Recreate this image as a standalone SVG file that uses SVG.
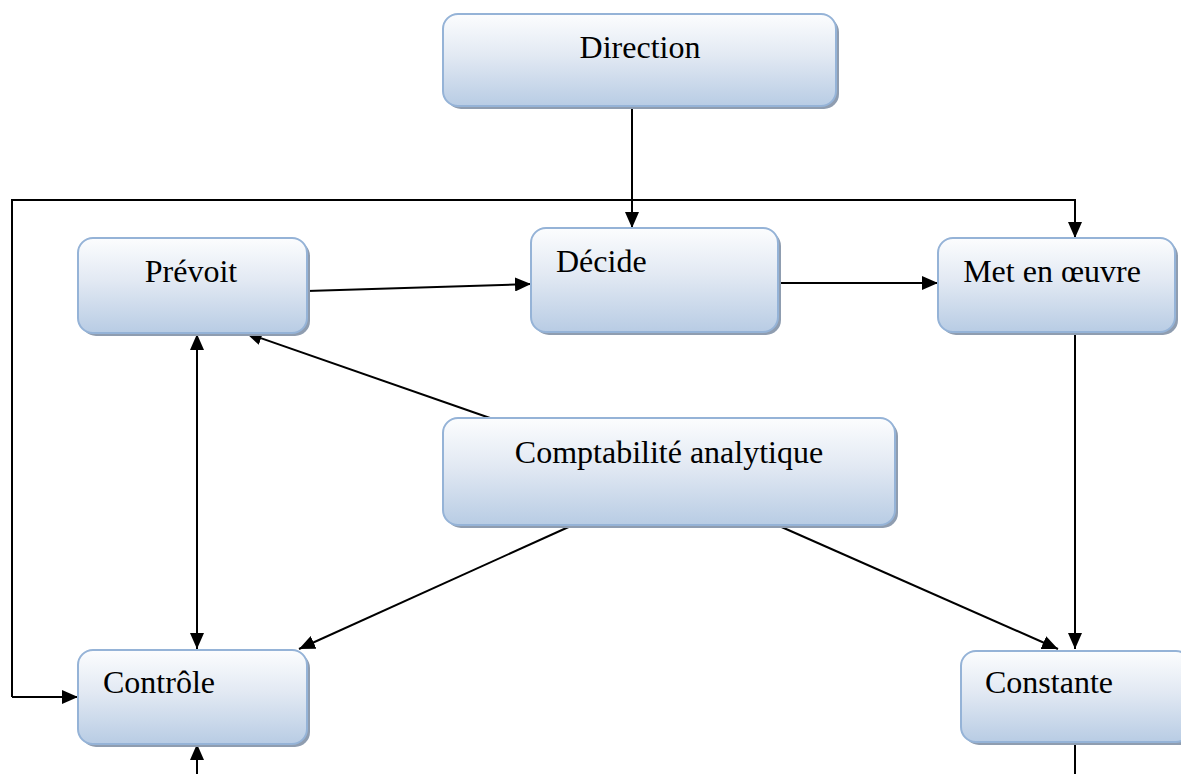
<svg xmlns="http://www.w3.org/2000/svg" width="1181" height="774" viewBox="0 0 1181 774">
  <defs>
    <linearGradient id="boxFill" x1="0" y1="0" x2="0" y2="1">
      <stop offset="0" stop-color="#fcfdfe"/>
      <stop offset="0.45" stop-color="#e2e9f3"/>
      <stop offset="1" stop-color="#b8cce4"/>
    </linearGradient>
    <marker id="arrow" viewBox="0 0 16 14" refX="16" refY="7" markerWidth="16" markerHeight="14" markerUnits="userSpaceOnUse" orient="auto">
      <path d="M0,0 L16,7 L0,14 Z" fill="#000"/>
    </marker>
    <marker id="arrowStart" viewBox="0 0 16 14" refX="0" refY="7" markerWidth="16" markerHeight="14" markerUnits="userSpaceOnUse" orient="auto">
      <path d="M16,0 L0,7 L16,14 Z" fill="#000"/>
    </marker>
  </defs>
  <style>
    .shadow { fill: #8f9db0; }
    .box { fill: url(#boxFill); stroke: #95b3d7; stroke-width: 2; }
    .label { font-family: "Liberation Serif", "Times New Roman", serif; font-size: 32px; fill: #000; }
    .mid { text-anchor: middle; }
    .link { fill: none; stroke: #000; stroke-width: 2; }
  </style>

  <g id="connectors">
    <!-- Direction to Décide -->
    <line class="link" x1="632" y1="108" x2="632" y2="228" marker-end="url(#arrow)"/>
    <!-- feedback loop round the top, to Met en œuvre and Contrôle -->
    <polyline class="link" points="12,697 12,200 1075,200 1075,238" marker-end="url(#arrow)"/>
    <line class="link" x1="12" y1="697" x2="78" y2="697" marker-end="url(#arrow)"/>
    <!-- Prévoit to Décide -->
    <line class="link" x1="307" y1="291" x2="531" y2="284" marker-end="url(#arrow)"/>
    <!-- Décide to Met en œuvre -->
    <line class="link" x1="778" y1="283" x2="938" y2="283" marker-end="url(#arrow)"/>
    <!-- Met en œuvre to Constante -->
    <line class="link" x1="1075" y1="332" x2="1075" y2="649" marker-end="url(#arrow)"/>
    <!-- Comptabilité analytique to Prévoit -->
    <line class="link" x1="490" y1="418" x2="246" y2="333" marker-end="url(#arrow)"/>
    <!-- Comptabilité analytique to Contrôle -->
    <line class="link" x1="573" y1="525" x2="299" y2="649" marker-end="url(#arrow)"/>
    <!-- Comptabilité analytique to Constante -->
    <line class="link" x1="777" y1="525" x2="1058" y2="649" marker-end="url(#arrow)"/>
    <!-- Prévoit and Contrôle, both ways -->
    <line class="link" x1="197" y1="334" x2="197" y2="649" marker-start="url(#arrowStart)" marker-end="url(#arrow)"/>
    <!-- incoming from below into Contrôle -->
    <line class="link" x1="197" y1="774" x2="197" y2="744" marker-end="url(#arrow)"/>
    <!-- outgoing below Constante -->
    <line class="link" x1="1075" y1="742" x2="1075" y2="774"/>
  </g>

  <g id="direction">
    <rect class="shadow" x="446" y="17" width="393" height="92" rx="15"/>
    <rect class="box" x="443" y="14" width="393" height="92" rx="15"/>
    <text class="label mid" x="640" y="58">Direction</text>
  </g>

  <g id="prevoit">
    <rect class="shadow" x="81" y="241" width="229" height="95" rx="15"/>
    <rect class="box" x="78" y="238" width="229" height="95" rx="15"/>
    <text class="label mid" x="191" y="282">Prévoit</text>
  </g>

  <g id="decide">
    <rect class="shadow" x="534" y="231" width="247" height="104" rx="15"/>
    <rect class="box" x="531" y="228" width="247" height="104" rx="15"/>
    <text class="label" x="556" y="272">Décide</text>
  </g>

  <g id="met-en-oeuvre">
    <rect class="shadow" x="941" y="241" width="237" height="94" rx="15"/>
    <rect class="box" x="938" y="238" width="237" height="94" rx="15"/>
    <text class="label mid" x="1052" y="282">Met en œuvre</text>
  </g>

  <g id="comptabilite-analytique">
    <rect class="shadow" x="446" y="421" width="452" height="107" rx="15"/>
    <rect class="box" x="443" y="418" width="452" height="107" rx="15"/>
    <text class="label mid" x="669" y="463">Comptabilité analytique</text>
  </g>

  <g id="controle">
    <rect class="shadow" x="81" y="653" width="229" height="94" rx="15"/>
    <rect class="box" x="78" y="650" width="229" height="94" rx="15"/>
    <text class="label" x="103" y="693">Contrôle</text>
  </g>

  <g id="constante">
    <rect class="shadow" x="964" y="654" width="230" height="91" rx="15"/>
    <rect class="box" x="961" y="651" width="230" height="91" rx="15"/>
    <text class="label" x="985" y="693">Constante</text>
  </g>
</svg>
